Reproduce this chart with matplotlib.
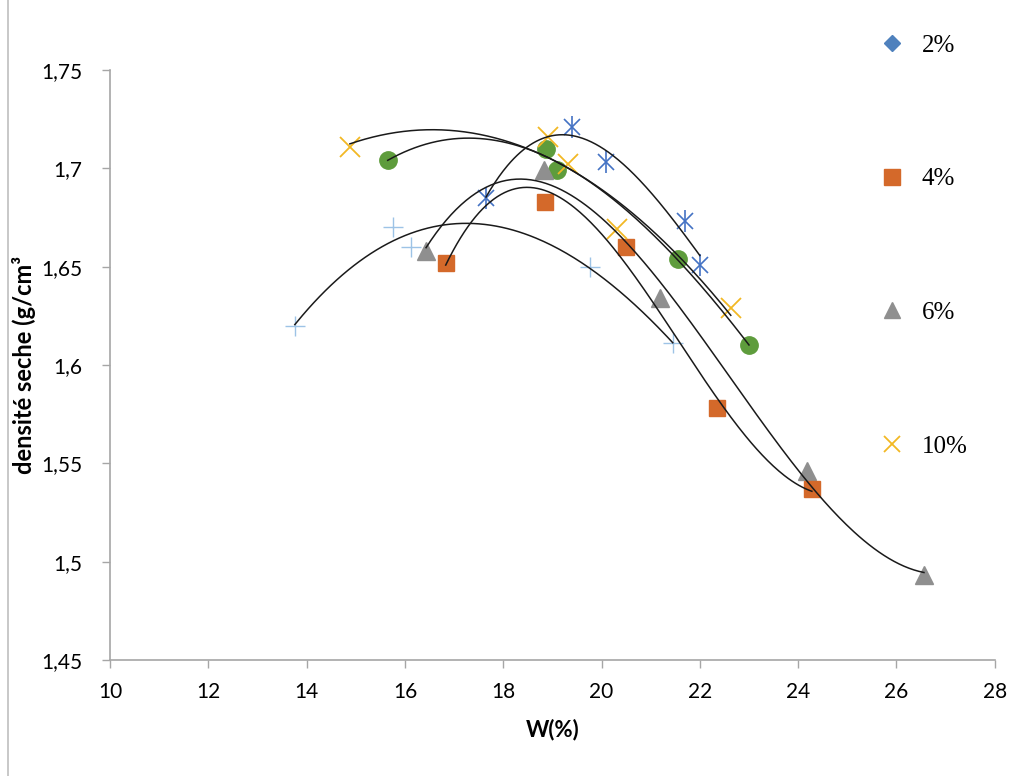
import numpy as np
import matplotlib
matplotlib.use("Agg")
import matplotlib.pyplot as plt
from matplotlib.lines import Line2D

# Data (W %, dry density g/cm3)
w_0 = [13.76, 15.75, 16.12, 19.76, 21.45]
d_0 = [1.620, 1.670, 1.660, 1.650, 1.611]

w_2 = [17.65, 19.40, 20.09, 21.69, 22.00]
d_2 = [1.685, 1.721, 1.703, 1.673, 1.651]

w_4 = [16.83, 18.85, 20.49, 22.35, 24.28]
d_4 = [1.652, 1.683, 1.660, 1.578, 1.537]

w_6 = [16.43, 18.83, 21.19, 24.18, 26.56]
d_6 = [1.658, 1.699, 1.634, 1.546, 1.493]

w_8 = [15.65, 18.87, 19.09, 21.55, 23.00]
d_8 = [1.704, 1.710, 1.699, 1.654, 1.610]

w_10 = [14.88, 18.91, 19.31, 20.31, 22.63]
d_10 = [1.711, 1.716, 1.702, 1.669, 1.629]

legend_labels = ["2%", "4%", "6%", "10%"]
x_ticks = [10, 12, 14, 16, 18, 20, 22, 24, 26, 28]
y_ticks = [1.45, 1.5, 1.55, 1.6, 1.65, 1.7, 1.75]

plt.rcParams["font.family"] = ["Lato", "DejaVu Sans"]

fig = plt.figure(figsize=(10.14, 7.76), dpi=100)
ax = fig.add_axes([0.1085, 0.1495, 0.8725, 0.7603])


def trend(w, d, deg):
    # Excel-style polynomial trendline over the data range
    c = np.polyfit(w, d, deg)
    xs = np.linspace(min(w), max(w), 200)
    ax.plot(xs, np.polyval(c, xs), color="#1a1a1a", lw=1.1, zorder=5)


# markers
ax.plot(w_0, d_0, ls="none", marker="+", ms=14, mew=1.0, color="#9DC3E6", zorder=3)
ax.plot(w_2, d_2, ls="none", marker="x", ms=12, mew=1.2, color="#4472C4", zorder=3)
ax.plot(w_2, d_2, ls="none", marker="|", ms=16, mew=1.2, color="#4472C4", zorder=3)
ax.plot(w_8, d_8, ls="none", marker="o", ms=12.5, color="#5E9C3C", zorder=3)
ax.plot(w_6, d_6, ls="none", marker="^", ms=13, color="#8F8F8F", zorder=3)
ax.plot(w_4, d_4, ls="none", marker="s", ms=12, color="#D4692A", zorder=3)
ax.plot(w_10, d_10, ls="none", marker="x", ms=14, mew=1.3, color="#F2B824", zorder=3)

trend(w_0, d_0, 3)
trend(w_2, d_2, 3)
trend(w_8, d_8, 3)
trend(w_6, d_6, 3)
trend(w_4, d_4, 3)
trend(w_10, d_10, 2)

ax.set_xlim(10, 28)
ax.set_ylim(1.45, 1.75)
ax.set_xticks(x_ticks)
ax.set_yticks(y_ticks)
ax.set_xticklabels([str(t) for t in x_ticks], fontsize=15)
ax.set_yticklabels([("%g" % t).replace(".", ",") for t in y_ticks], fontsize=15)
ax.tick_params(length=6, color="#A6A6A6", width=1)
ax.tick_params(axis="x", pad=10)
ax.tick_params(axis="y", pad=14)

for s in ["top", "right"]:
    ax.spines[s].set_visible(False)
for s in ["left", "bottom"]:
    ax.spines[s].set_color("#A6A6A6")
    ax.spines[s].set_linewidth(1.2)

ax.set_xlabel("W(%)", fontsize=16, fontweight="bold", labelpad=12)
ax.set_ylabel("densité seche (g/cm³", fontsize=17, fontweight="bold", labelpad=4)

# legend at the right
handles = [
    Line2D([], [], ls="none", marker="D", ms=8, color="#4F81BD"),
    Line2D([], [], ls="none", marker="s", ms=11, color="#D4692A"),
    Line2D([], [], ls="none", marker="^", ms=12, color="#8F8F8F"),
    Line2D([], [], ls="none", marker="x", ms=12, mew=1.3, color="#F2B824"),
]
fig.legend(handles, legend_labels, loc="upper left", bbox_to_anchor=(0.845, 0.985),
           frameon=False, labelspacing=4.45, handlelength=1.0, handletextpad=0.7,
           prop={"family": "Liberation Serif", "size": 18})

# outer chart border (left edge)
fig.add_artist(Line2D([8 / 1014, 8 / 1014], [0, 1], transform=fig.transFigure,
                      color="#BFBFBF", lw=1.2))

fig.savefig("out.png", dpi=100)
